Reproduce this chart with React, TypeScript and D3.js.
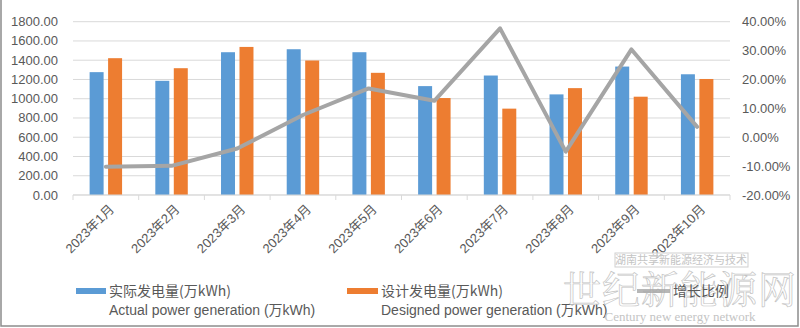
import React from "react";
import * as d3 from "d3";

const months = ["2023年1月","2023年2月","2023年3月","2023年4月","2023年5月","2023年6月","2023年7月","2023年8月","2023年9月","2023年10月"];
const actual = [1276, 1186, 1483, 1514, 1483, 1131, 1241, 1045, 1334, 1254];
const designed = [1421, 1317, 1538, 1397, 1269, 1007, 897, 1110, 1021, 1205];
const growth = [-10.2, -9.9, -3.9, 7.7, 16.9, 12.6, 37.7, -5.0, 30.4, 3.6];
const leftTicks = [0, 200, 400, 600, 800, 1000, 1200, 1400, 1600, 1800];
const rightTicks = [-20, -10, 0, 10, 20, 30, 40];
const seriesKeys = ["actual", "designed"];
const legendCn = ["实际发电量(万kWh)", "设计发电量(万kWh)", "增长比例"];
const legendEn = ["Actual power generation (万kWh)", "Designed power generation (万kWh)"];

const W = 800, H = 328;
const X0 = 73, X1 = 730, Y0 = 195, Y1 = 21.7;
const BLUE = "#5B9BD5", ORANGE = "#ED7D31", GRAY = "#A5A5A5";
const TXT = "#595959";
const FONT = "'Liberation Sans', Arial, 'Noto Sans CJK SC', sans-serif";
const CJK = "'Noto Sans CJK SC', 'Liberation Sans', sans-serif";

export default function App() {
  const x = d3.scaleBand<string>().domain(months).range([X0, X1]).padding(0);
  const bw = x.bandwidth();
  const inner = d3.scaleBand<string>().domain(seriesKeys)
    .range([bw * 0.253, bw * 0.747]).paddingInner(0.243).paddingOuter(0);
  const yL = d3.scaleLinear().domain([0, 1800]).range([Y0, Y1]);
  const yR = d3.scaleLinear().domain([-20, 40]).range([Y0, Y1]);
  const line = d3.line<number>()
    .x((_, i) => (x(months[i]) as number) + bw / 2)
    .y((d) => yR(d));
  const colors = [BLUE, ORANGE];
  const data = [actual, designed];

  return (
    <svg width={W} height={H} style={{ position: "absolute", left: 0, top: 0, background: "#fff" }}>
      <rect x={0} y={0} width={W} height={H} fill="#fff" />
      {leftTicks.map((t) => (
        <line key={"g" + t} x1={X0} x2={X1} y1={yL(t)} y2={yL(t)} stroke="#D9D9D9" strokeWidth={1} />
      ))}
      {leftTicks.map((t) => (
        <text key={"l" + t} x={58} y={yL(t) + 4.5} textAnchor="end" fontSize={13} fill={TXT} fontFamily={FONT}>
          {t.toFixed(2)}
        </text>
      ))}
      {rightTicks.map((t) => (
        <text key={"r" + t} x={742} y={yR(t) + 4.5} textAnchor="start" fontSize={13} fill={TXT} fontFamily={FONT}>
          {t.toFixed(2) + "%"}
        </text>
      ))}
      {months.map((m, i) => (
        <g key={m}>
          {data.map((arr, s) => (
            <rect key={s}
              x={(x(m) as number) + (inner(seriesKeys[s]) as number)}
              y={yL(arr[i])}
              width={inner.bandwidth()}
              height={Y0 - yL(arr[i])}
              fill={colors[s]} />
          ))}
        </g>
      ))}
      <line x1={X0} x2={X1} y1={Y0} y2={Y0} stroke="#D9D9D9" strokeWidth={1} />
      {months.concat(["end"]).map((m, i) => {
        const xx = X0 + i * bw;
        return <line key={"t" + i} x1={xx} x2={xx} y1={Y0} y2={Y0 + 5} stroke="#D9D9D9" strokeWidth={1} />;
      })}
      <path d={line(growth) || ""} fill="none" stroke={GRAY} strokeWidth={4} strokeLinejoin="round" strokeLinecap="round" />
      {months.map((m) => {
        const cx = (x(m) as number) + bw / 2;
        return (
          <text key={"x" + m} transform={`translate(${cx + 9},${210}) rotate(-45)`} textAnchor="end"
            fontSize={13} fill={TXT} fontFamily={FONT}>{m}</text>
        );
      })}
      {/* watermark box */}
      <rect x={615} y={253} width={133} height={14} fill="#fff" fillOpacity={0.6} stroke="#cfcfcf" strokeWidth={1} />
      <text x={681} y={264} textAnchor="middle" fontSize={11} fill="#c4c4c4" fontFamily={CJK}>湖南共享新能源经济与技术</text>
      {/* legend */}
      <rect x={76} y={288} width={30} height={6} fill={BLUE} />
      <text x={109} y={296} fontSize={14} fill={TXT} fontFamily={CJK}>{legendCn[0]}</text>
      <text x={109} y={315} fontSize={14} fill={TXT} fontFamily={FONT}>{legendEn[0]}</text>
      <rect x={347} y={288} width={31} height={6} fill={ORANGE} />
      <text x={381} y={296} fontSize={14} fill={TXT} fontFamily={CJK}>{legendCn[1]}</text>
      <text x={381} y={315} fontSize={14} fill={TXT} fontFamily={FONT}>{legendEn[1]}</text>
      {/* big watermark */}
      <text x={680} y={303} textAnchor="middle" fontSize={38} fill="#fff" fillOpacity={0.5} stroke="#c4c4c4" strokeWidth={0.7}
        fontFamily="'Noto Serif CJK SC', 'Noto Sans CJK SC', serif" letterSpacing={1}>世纪新能源网</text>
      <line x1={637} x2={670} y1={291} y2={291} stroke={GRAY} strokeWidth={4} strokeOpacity={0.8} />
      <text x={673} y={296} fontSize={14} fill={TXT} fontFamily={CJK}>{legendCn[2]}</text>
      <text x={680} y={321} textAnchor="middle" fontSize={13} fill="#c4c4c4" fontFamily="'Liberation Serif', 'DejaVu Serif', serif">Century new energy network</text>
      {/* frame */}
      <rect x={1} y={-2} width={797} height={328} fill="none" stroke="#8c8c8c" strokeWidth={1.5} />
    </svg>
  );
}
